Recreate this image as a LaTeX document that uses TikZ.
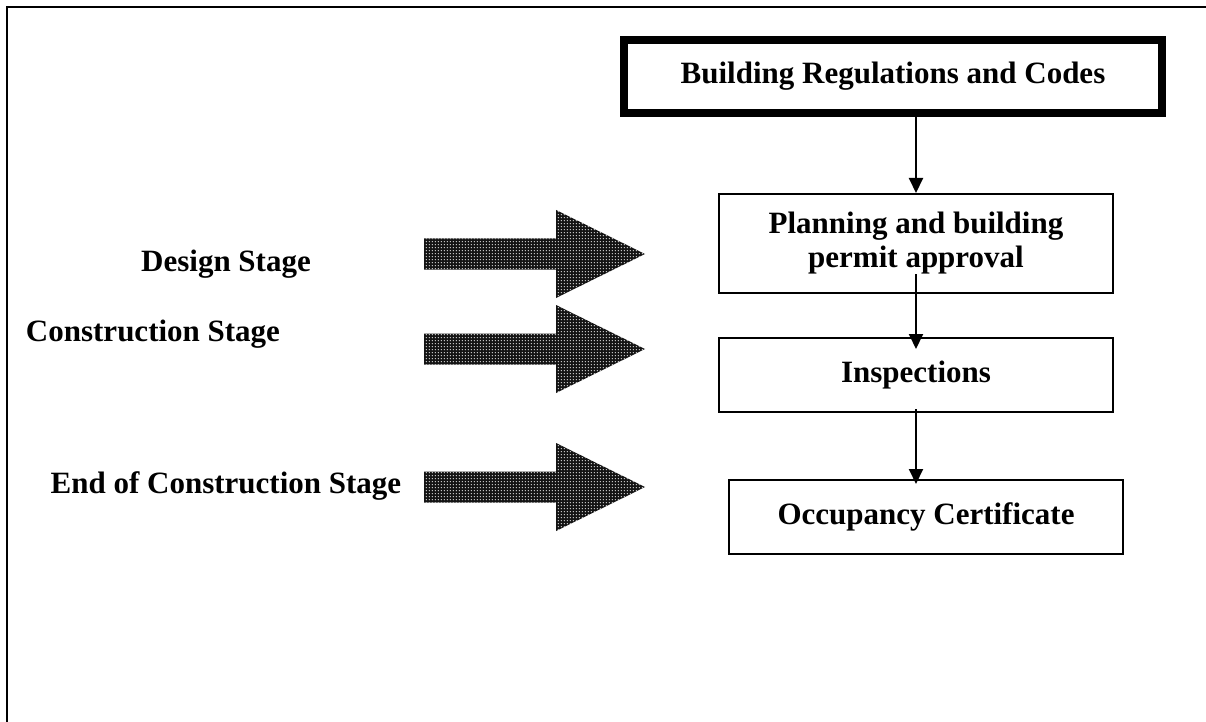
\documentclass[tikz,border=0pt]{standalone}
\usepackage{fontspec}
\setmainfont{Liberation Serif}
\usetikzlibrary{arrows.meta,calc,patterns.meta}
\tikzdeclarepattern{
  name=finedots,
  type=uncolored,
  bounding box={(0,0) and (1.6pt,1.6pt)},
  tile size={(1.6pt,1.6pt)},
  code={\fill (0.8pt,0.8pt) circle (0.34pt);}
}
\tikzset{
  box/.style={draw, line width=1pt, align=center, inner sep=2pt,
    font=\fontsize{15.5}{17}\selectfont\bfseries, minimum width=197pt},
  topbox/.style={box, line width=4pt, minimum width=269pt, minimum height=36.5pt},
  lbl/.style={font=\fontsize{15.5}{17}\selectfont\bfseries, inner sep=0pt},
  arr/.style={line width=1pt, -{Triangle[width=7pt,length=7.5pt]}},
  bigarrow/.style={fill=black!92},
  bigdots/.style={pattern=finedots, pattern color=white}
}
\begin{document}
\begin{tikzpicture}[x=0.5pt,y=-0.5pt]
\useasboundingbox (0,0) rectangle (1206,722);
\fill[white] (0,0) rectangle (1206,722);
% frame
\draw[line width=1pt] (7,722) -- (7,7) -- (1206,7);
% boxes
\node[topbox] (top) at (893,76.5) {Building Regulations and Codes};
\node[box, minimum height=49.5pt] (plan) at (916,243.5) {Planning and building\\permit approval};
\node[box, minimum height=37pt] (insp) at (916,375) {\raisebox{3pt}{Inspections}};
\node[box, minimum height=37pt] (occ) at (926,517) {\raisebox{3pt}{Occupancy Certificate}};
% connectors
\coordinate (a1s) at (top.south -| plan.north);
\draw[arr] (a1s) -- (plan.north);
\coordinate (a2s) at ($(plan.south)+(0,-20)$);
\coordinate (a2e) at ($(insp.north)+(0,12)$);
\draw[arr] (a2s) -- (a2e);
\coordinate (a3s) at ($(insp.south)+(0,-4)$);
\coordinate (a3e) at ($(occ.north -| insp.south)+(0,5)$);
\draw[arr] (a3s) -- (a3e);
% labels
\node[lbl] (l1) at (226,264) {Design Stage};
\node[lbl] (l2) at (153,334) {Construction Stage};
\node[lbl] (l3) at (226,486) {End of Construction Stage};
% big patterned arrows
\foreach \c in {254,349,487}{
  \fill[bigarrow] (424,\c-15.5) -- (556,\c-15.5) -- (556,\c-44) -- (645,\c) -- (556,\c+44) -- (556,\c+15.5) -- (424,\c+15.5) -- cycle;
  \fill[bigdots] (424,\c-15.5) -- (556,\c-15.5) -- (556,\c-44) -- (645,\c) -- (556,\c+44) -- (556,\c+15.5) -- (424,\c+15.5) -- cycle;
}
\end{tikzpicture}
\end{document}
